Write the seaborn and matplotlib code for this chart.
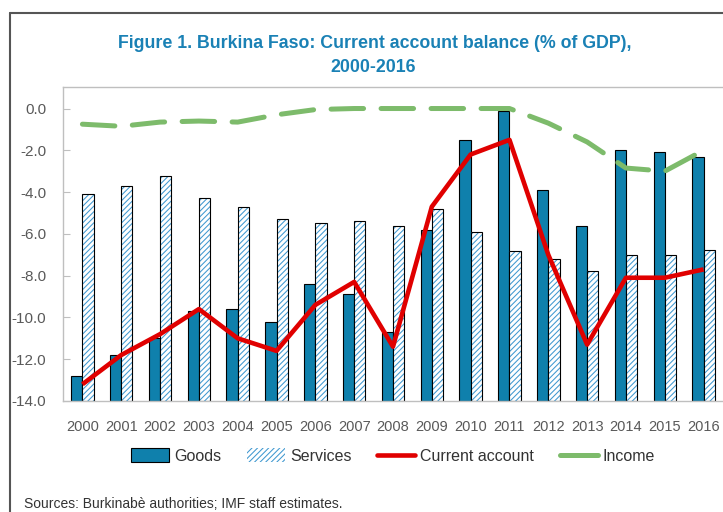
import numpy as np
import pandas as pd
import matplotlib
matplotlib.use("Agg")
import matplotlib.pyplot as plt
from matplotlib.lines import Line2D
from matplotlib.patches import Patch, Rectangle
import seaborn as sns

years = [str(y) for y in range(2000, 2017)]
goods = [-12.8, -11.8, -11.0, -9.7, -9.6, -10.2, -8.4, -8.9, -10.7,
         -5.8, -1.5, -0.1, -3.9, -5.6, -2.0, -2.1, -2.3]
services = [-4.1, -3.7, -3.25, -4.3, -4.7, -5.3, -5.5, -5.4, -5.6,
            -4.8, -5.9, -6.8, -7.2, -7.8, -7.0, -7.0, -6.75]
current_account = [-13.2, -11.8, -10.8, -9.6, -11.0, -11.6, -9.4, -8.3, -11.4,
                   -4.7, -2.2, -1.5, -7.0, -11.3, -8.1, -8.1, -7.7]
income = [-0.75, -0.85, -0.65, -0.6, -0.65, -0.3, -0.05, 0.0, 0.0,
          0.0, 0.0, 0.0, -0.7, -1.6, -2.85, -3.0, -2.0]
y_ticks = [-14, -12, -10, -8, -6, -4, -2, 0]
BASE = -14  # bars rise from the bottom of the axis, as in the original

GOODS_COLOR = "#0f80ac"
HATCH_COLOR = "#3f98d0"
RED = "#e00000"
GREEN = "#7dbb6b"
TITLE_COLOR = "#1a81b5"
TEXT_GRAY = "#595959"
AXIS_GRAY = "#bfbfbf"

sns.set_style("white")
plt.rcParams["font.family"] = ["Liberation Sans", "DejaVu Sans"]
plt.rcParams["hatch.linewidth"] = 0.75

bars = pd.DataFrame({
    "year": years * 2,
    "component": ["Goods"] * len(years) + ["Services"] * len(years),
    "value": goods + services,
})

fig = plt.figure(figsize=(7.23, 5.12), dpi=100)
ax = fig.add_axes([63 / 723, 111 / 512, 660 / 723, 314 / 512])

sns.barplot(
    data=bars, x="year", y="value", hue="component",
    hue_order=["Goods", "Services"],
    palette={"Goods": GOODS_COLOR, "Services": "white"},
    width=0.58, saturation=1, errorbar=None,
    edgecolor="black", linewidth=0.8, legend=False, ax=ax,
)

bar_patches = list(ax.patches)
for p in bar_patches:
    top = p.get_y() + p.get_height()
    p.set_y(BASE)
    p.set_height(top - BASE)
    # hatch the services bars, keep a black outline on top
    if tuple(p.get_facecolor()[:3]) == (1.0, 1.0, 1.0):
        p.set_hatch("//////")
        p.set_edgecolor(HATCH_COLOR)
        p.set_linewidth(0)
        ax.add_patch(Rectangle(p.get_xy(), p.get_width(), p.get_height(),
                               fill=False, edgecolor="black", lw=0.8, zorder=p.get_zorder()))

x_pos = np.arange(len(years))
sns.lineplot(x=x_pos, y=current_account, color=RED, lw=3.3, ax=ax,
             legend=False, solid_capstyle="butt", zorder=4)
sns.lineplot(x=x_pos, y=income, color=GREEN, lw=3.6, ax=ax, legend=False,
             linestyle=(0, (6.5, 3.5)), dash_capstyle="round", zorder=5)

ax.set_xlim(-0.5, 16.5)
ax.set_ylim(-14, 1.03)
ax.set_yticks(y_ticks)
ax.set_yticklabels([f"{v:.1f}" for v in y_ticks])
ax.set_xticks(x_pos)
ax.set_xticklabels(years)
ax.set_xticks(np.arange(-0.5, 17, 1), minor=True)
ax.set_xlabel("")
ax.set_ylabel("")

ax.tick_params(axis="x", which="major", length=0, pad=14, labelsize=10.5, labelcolor=TEXT_GRAY)
ax.tick_params(axis="x", which="minor", direction="in", length=6, color=AXIS_GRAY)
ax.tick_params(axis="y", direction="in", length=5, color=AXIS_GRAY, pad=12,
               labelsize=11, labelcolor=TEXT_GRAY, left=True)
for side in ["left", "bottom", "top"]:
    ax.spines[side].set_color(AXIS_GRAY)
    ax.spines[side].set_linewidth(1)
ax.spines["right"].set_visible(False)

# outer frame of the figure box
fig.add_artist(Line2D([10 / 723, 10 / 723], [-0.1, 1 - 13 / 512],
                      transform=fig.transFigure, color="#555555", lw=1.5))
fig.add_artist(Line2D([10 / 723, 1.1], [1 - 13 / 512, 1 - 13 / 512],
                      transform=fig.transFigure, color="#555555", lw=1.5))

fig.text(375 / 723, 1 - 43 / 512,
         "Figure 1. Burkina Faso: Current account balance (% of GDP),",
         ha="center", va="center", fontsize=12.8, fontweight="bold", color=TITLE_COLOR)
fig.text(373 / 723, 1 - 68 / 512, "2000-2016",
         ha="center", va="center", fontsize=12.8, fontweight="bold", color=TITLE_COLOR)

handles = [
    Patch(facecolor=GOODS_COLOR, edgecolor="black", lw=0.8),
    Patch(facecolor="white", edgecolor=HATCH_COLOR, hatch="//////", lw=0),
    Line2D([0], [0], color=RED, lw=3.3),
    Line2D([0], [0], color=GREEN, lw=3.6),
]
fig.legend(handles, ["Goods", "Services", "Current account", "Income"],
           loc="center", bbox_to_anchor=(393 / 723, 1 - 456 / 512), ncol=4,
           frameon=False, fontsize=11.5, handlelength=2.4, handleheight=0.9,
           columnspacing=1.6, handletextpad=0.3, labelcolor="#333333")

fig.text(24 / 723, 1 - 504 / 512, "Sources: Burkinab\u00e8 authorities; IMF staff estimates.",
         ha="left", va="center", fontsize=10, color="#333333")

fig.savefig("out.png", dpi=100)
